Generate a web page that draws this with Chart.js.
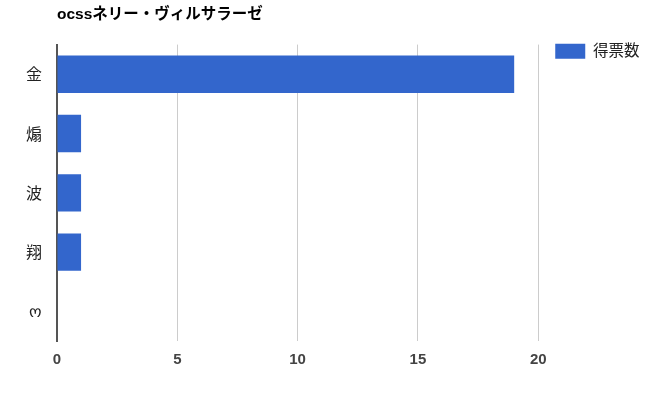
<!DOCTYPE html>
<html>
<head>
<meta charset="utf-8">
<script src="https://cdn.jsdelivr.net/npm/chart.js@4/dist/chart.umd.min.js"></script>
<style>
html,body{margin:0;padding:0;background:#fff;}
#wrap{width:654px;height:408px;position:relative;}
</style>
</head>
<body>
<div id="wrap"><canvas id="c"></canvas></div>
<script>
const chartTitle = 'ocssネリー・ヴィルサラーゼ';
const categories = ['金', '煽', '波', '翔', 'ო'];
const seriesName = '得票数';
const votes = [19, 1, 1, 1, 0];
const xTicks = [0, 5, 10, 15, 20];

const FONT = "Arial, 'Liberation Sans', 'Noto Sans CJK JP', sans-serif";
const LEGEND_PAD = 17;

// Align the title with the plot's left edge and the legend with the plot's top edge
const alignPlugin = {
  id: 'alignBoxes',
  afterLayout(chart) {
    if (chart.titleBlock) {
      const w = chart.titleBlock.right - chart.titleBlock.left;
      chart.titleBlock.left = chart.chartArea.left;
      chart.titleBlock.right = chart.titleBlock.left + w;
    }
    if (chart.legend) {
      chart.legend.top = chart.chartArea.top - LEGEND_PAD - 1;
    }
  }
};

new Chart(document.getElementById('c'), {
  type: 'bar',
  data: {
    labels: categories,
    datasets: [{
      label: seriesName,
      data: votes,
      backgroundColor: '#3366cc',
      borderWidth: 0,
      categoryPercentage: 1,
      barPercentage: 0.63
    }]
  },
  plugins: [alignPlugin],
  options: {
    indexAxis: 'y',
    responsive: true,
    maintainAspectRatio: false,
    animation: false,
    layout: { padding: { left: 11, right: 4.5, top: 0, bottom: 29 } },
    plugins: {
      title: {
        display: true,
        text: chartTitle,
        align: 'start',
        color: '#000',
        font: { family: FONT, size: 15.5, weight: 'bold' },
        padding: { top: 5, bottom: 21 }
      },
      legend: {
        position: 'right',
        align: 'start',
        labels: {
          boxWidth: 30,
          boxHeight: 15,
          padding: LEGEND_PAD,
          color: '#222',
          font: { family: FONT, size: 15.5 }
        }
      },
      tooltip: { enabled: false }
    },
    scales: {
      x: {
        min: 0,
        max: 20,
        afterBuildTicks: (axis) => { axis.ticks = xTicks.map(v => ({ value: v })); },
        grid: { color: '#cccccc', lineWidth: 1, drawTicks: false },
        border: { display: false },
        ticks: {
          color: '#444',
          padding: 10,
          font: { family: FONT, size: 15, weight: 'bold' }
        }
      },
      y: {
        grid: { display: false, drawTicks: false },
        border: { display: true, color: '#555', width: 2 },
        ticks: {
          color: '#222',
          padding: 15,
          font: { family: "'Noto Sans CJK JP', " + FONT, size: 16 }
        }
      }
    }
  }
});
</script>
</body>
</html>
